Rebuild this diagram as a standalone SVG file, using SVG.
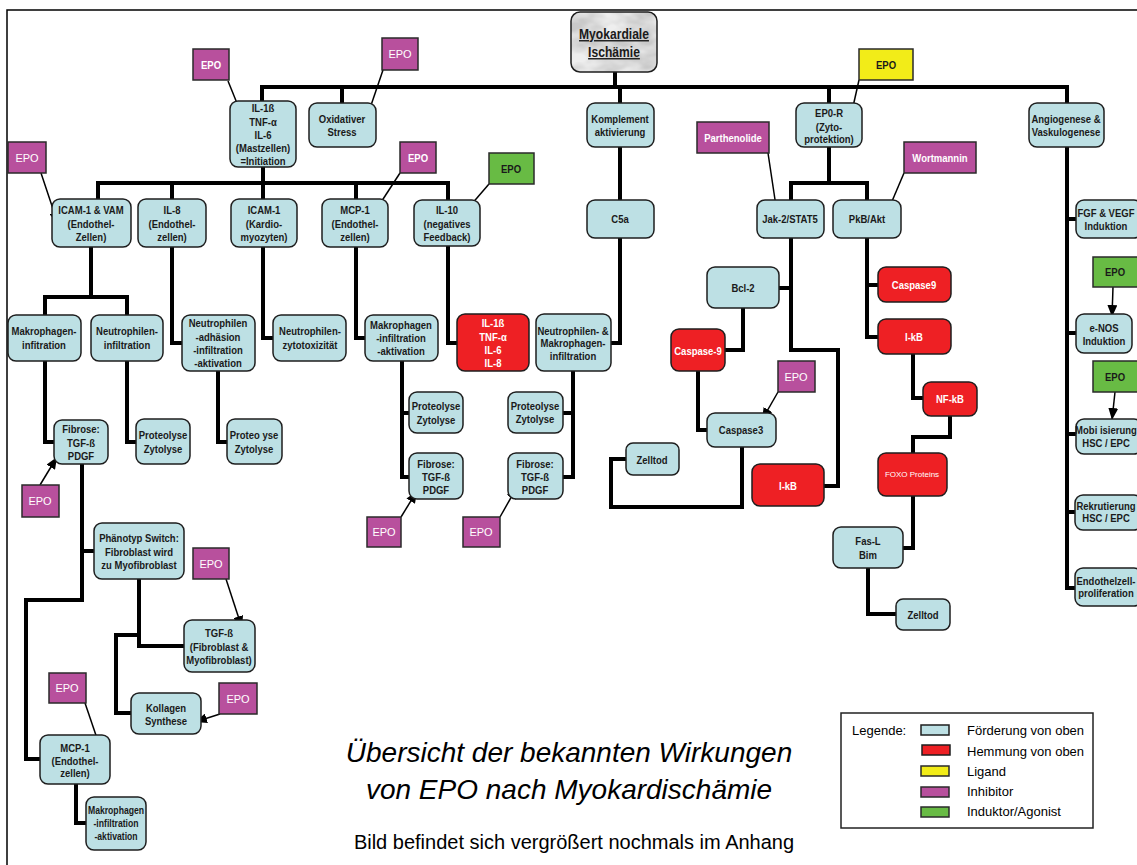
<svg xmlns="http://www.w3.org/2000/svg" width="1137" height="865" viewBox="0 0 1137 865">
<style>
.b{fill:#bde0e4;stroke:#1e1e1e;stroke-width:1.5}
.r{fill:#ee2024;stroke:#1e1e1e;stroke-width:1.5}
.p{fill:#b8509d;stroke:#2a2a2a;stroke-width:1.5}
.g{fill:#68bb44;stroke:#2a2a2a;stroke-width:1.5}
.y{fill:#f2ec18;stroke:#2a2a2a;stroke-width:1.5}
.t{font-family:"Liberation Sans",Arial,sans-serif;font-weight:bold;font-size:11px;fill:#1a1a1a;text-anchor:middle;transform-box:fill-box;transform-origin:center;transform:scaleX(0.865)}
.w{fill:#ffffff}
.e{font-family:"Liberation Sans",Arial,sans-serif;font-size:11px;fill:#ffffff;text-anchor:middle}
.c{fill:none;stroke:#000;stroke-width:4;stroke-linejoin:miter;stroke-linecap:square}
.a{fill:none;stroke:#000;stroke-width:1.5;marker-end:url(#ah)}
.lg{font-family:"Liberation Sans",Arial,sans-serif;font-size:13px;fill:#000}
.ti{font-family:"Liberation Sans",Arial,sans-serif;font-style:italic;font-size:28px;fill:#000;text-anchor:middle}
</style>
<defs>
<marker id="ah" markerUnits="userSpaceOnUse" markerWidth="12" markerHeight="10" refX="12" refY="5" orient="auto"><path d="M0,0 L12,5 L0,10 z" fill="#000"/></marker>
<filter id="marbleF" x="0" y="0" width="1" height="1">
<feTurbulence type="fractalNoise" baseFrequency="0.035 0.06" numOctaves="3" seed="7" result="n"/>
<feColorMatrix in="n" type="matrix" values="0 0 0 0 0.86  0 0 0 0 0.86  0 0 0 0 0.86  0 0 0 -2.2 1.6" result="m"/>
<feFlood flood-color="#c9c9c9" result="bg"/>
<feComposite in="m" in2="bg" operator="over"/>
</filter>
<clipPath id="topclip"><rect x="571" y="12" width="86" height="60" rx="9"/></clipPath>
</defs>
<rect x="7" y="10" width="1200" height="900" fill="#fff" stroke="#000" stroke-width="1.5"/>

<g id="connectors">
<path class="c" d="M615,72 V87"/>
<path class="c" d="M262,101 V87 H1067 V103"/>
<path class="c" d="M342,87 V103 M620,87 V103 M829,87 V103"/>
<path class="c" d="M263,167 V183"/>
<path class="c" d="M98,199 V183 H448 V200 M172,183 V199 M263,183 V199 M356,183 V199"/>
<path class="c" d="M620,147 V200 M620,238 V343 H611"/>
<path class="c" d="M91,247 V297 M45,315 V297 H127 V315"/>
<path class="c" d="M172,247 V343 H182"/>
<path class="c" d="M263,247 V338 H273"/>
<path class="c" d="M356,247 V338 H365"/>
<path class="c" d="M448,246 V343 H457"/>
<path class="c" d="M45,361 V442 H54"/>
<path class="c" d="M127,361 V442 H136"/>
<path class="c" d="M218,371 V442 H227"/>
<path class="c" d="M402,361 V477 H409 M402,413 H409"/>
<path class="c" d="M573,371 V477 H563 M573,413 H563"/>
<path class="c" d="M82,464 V600 H26 V759 H40 M82,551 H94"/>
<path class="c" d="M139,579 V646 H184 M139,635 H116 V713 H131"/>
<path class="c" d="M76,784 V823 H86"/>
<path class="c" d="M829,147 V183 M791,200 V183 H867 V200"/>
<path class="c" d="M791,238 V350 H838 V486 H824 M779,288 H791"/>
<path class="c" d="M743,308 V350 H725"/>
<path class="c" d="M698,371 V430 H707"/>
<path class="c" d="M742,447 V507 H611 V459 H626"/>
<path class="c" d="M867,238 V337 H878 M867,285 H878"/>
<path class="c" d="M913,354 V398 H923"/>
<path class="c" d="M950,416 V437 H913 V453"/>
<path class="c" d="M913,496 V548 H903"/>
<path class="c" d="M868,568 V614 H896"/>
<path class="c" d="M1067,147 V588 H1076 M1067,219 H1076 M1067,333 H1076 M1067,434 H1076 M1067,512 H1076"/>
<path class="a" d="M228,81 L243,118"/>
<path class="a" d="M383,70 L366,120"/>
<path class="a" d="M41,173 L58,224"/>
<path class="a" d="M400,173 L374,213"/>
<path class="a" d="M489,184 L464,213"/>
<path class="a" d="M768,153 L777,213"/>
<path class="a" d="M904,173 L887,213"/>
<path class="a" d="M859,80 L850,120"/>
<path class="a" d="M778,392 L762,420"/>
<path class="a" d="M1113,287 L1112,317"/>
<path class="a" d="M1115,392 L1112,420"/>
<path class="a" d="M40,485 L57,457"/>
<path class="a" d="M401,517 L417,491"/>
<path class="a" d="M500,517 L517,487"/>
<path class="a" d="M226,579 L242,628"/>
<path class="a" d="M220,714 L195,722"/>
<path class="a" d="M85,703 L102,753"/>
</g>

<g id="n-top">
<rect x="571" y="12" width="86" height="60" fill="#d0d0d0" filter="url(#marbleF)" clip-path="url(#topclip)"/>
<rect x="571" y="12" width="86" height="60" rx="9" fill="none" stroke="#1e1e1e" stroke-width="1.5"/>
<text class="t" x="614" y="39" text-decoration="underline" style="font-size:14px">Myokardiale</text>
<text class="t" x="614" y="57" text-decoration="underline" style="font-size:14px">Ischämie</text></g>

<g id="n-il1"><rect class="b" x="230" y="101" width="66" height="66" rx="8"/>
<text class="t" x="263" y="112">IL-1ß</text><text class="t" x="263" y="126">TNF-α</text><text class="t" x="263" y="139">IL-6</text><text class="t" x="263" y="152">(Mastzellen)</text><text class="t" x="263" y="165">=Initiation</text></g>
<g id="n-oxi"><rect class="b" x="309" y="103" width="67" height="44" rx="8"/>
<text class="t" x="342" y="123">Oxidativer</text><text class="t" x="342" y="136">Stress</text></g>
<g id="n-komp"><rect class="b" x="587" y="103" width="67" height="44" rx="8"/>
<text class="t" x="620" y="123">Komplement</text><text class="t" x="620" y="136">aktivierung</text></g>
<g id="n-epor"><rect class="b" x="796" y="103" width="66" height="44" rx="8"/>
<text class="t" x="829" y="117">EP0-R</text><text class="t" x="829" y="131">(Zyto-</text><text class="t" x="829" y="143">protektion)</text></g>
<g id="n-angio"><rect class="b" x="1029" y="103" width="75" height="44" rx="8"/>
<text class="t" x="1066" y="123">Angiogenese &amp;</text><text class="t" x="1066" y="136">Vaskulogenese</text></g>

<g id="n-icamvam"><rect class="b" x="52" y="199" width="79" height="48" rx="8"/>
<text class="t" x="91" y="214">ICAM-1 &amp; VAM</text><text class="t" x="91" y="228">(Endothel-</text><text class="t" x="91" y="241">Zellen)</text></g>
<g id="n-il8"><rect class="b" x="138" y="199" width="68" height="48" rx="8"/>
<text class="t" x="172" y="214">IL-8</text><text class="t" x="172" y="228">(Endothel-</text><text class="t" x="172" y="241">zellen)</text></g>
<g id="n-icam1"><rect class="b" x="231" y="199" width="66" height="48" rx="8"/>
<text class="t" x="264" y="214">ICAM-1</text><text class="t" x="264" y="228">(Kardio-</text><text class="t" x="264" y="241">myozyten)</text></g>
<g id="n-mcp1"><rect class="b" x="322" y="199" width="66" height="48" rx="8"/>
<text class="t" x="355" y="214">MCP-1</text><text class="t" x="355" y="228">(Endothel-</text><text class="t" x="355" y="241">zellen)</text></g>
<g id="n-il10"><rect class="b" x="414" y="200" width="66" height="46" rx="8"/>
<text class="t" x="447" y="214">IL-10</text><text class="t" x="447" y="228">(negatives</text><text class="t" x="447" y="241">Feedback)</text></g>
<g id="n-c5a"><rect class="b" x="587" y="200" width="67" height="38" rx="8"/>
<text class="t" x="620" y="223">C5a</text></g>
<g id="n-jak"><rect class="b" x="757" y="200" width="67" height="38" rx="8"/>
<text class="t" x="790" y="223">Jak-2/STAT5</text></g>
<g id="n-pkb"><rect class="b" x="833" y="200" width="68" height="38" rx="8"/>
<text class="t" x="867" y="223">PkB/Akt</text></g>
<g id="n-fgf"><rect class="b" x="1076" y="200" width="66" height="38" rx="8"/>
<text class="t" x="1106" y="217">FGF &amp; VEGF</text><text class="t" x="1106" y="230">Induktion</text></g>

<g id="n-makinf"><rect class="b" x="8" y="315" width="73" height="46" rx="8"/>
<text class="t" x="44" y="335">Makrophagen-</text><text class="t" x="44" y="349">infitration</text></g>
<g id="n-neuinf"><rect class="b" x="91" y="315" width="72" height="46" rx="8"/>
<text class="t" x="127" y="335">Neutrophilen-</text><text class="t" x="127" y="349">infiltration</text></g>
<g id="n-neuadh"><rect class="b" x="182" y="315" width="73" height="56" rx="8"/>
<text class="t" x="218" y="327">Neutrophilen</text><text class="t" x="218" y="341">-adhäsion</text><text class="t" x="218" y="354">-infiltration</text><text class="t" x="218" y="367">-aktivation</text></g>
<g id="n-neuzyt"><rect class="b" x="273" y="315" width="73" height="46" rx="8"/>
<text class="t" x="310" y="335">Neutrophilen-</text><text class="t" x="310" y="349">zytotoxizität</text></g>
<g id="n-makakt"><rect class="b" x="365" y="315" width="73" height="46" rx="8"/>
<text class="t" x="401" y="329">Makrophagen</text><text class="t" x="401" y="342">-infiltration</text><text class="t" x="401" y="355">-aktivation</text></g>
<g id="n-ilred"><rect class="r" x="457" y="314" width="72" height="57" rx="8"/>
<text class="t w" x="493" y="327">IL-1ß</text><text class="t w" x="493" y="341">TNF-α</text><text class="t w" x="493" y="354">IL-6</text><text class="t w" x="493" y="367">IL-8</text></g>
<g id="n-nmi"><rect class="b" x="536" y="314" width="75" height="57" rx="8"/>
<text class="t" x="573" y="335">Neutrophilen- &amp;</text><text class="t" x="573" y="347">Makrophagen-</text><text class="t" x="573" y="360">infiltration</text></g>

<g id="n-fib1"><rect class="b" x="54" y="420" width="54" height="44" rx="8"/>
<text class="t" x="81" y="433">Fibrose:</text><text class="t" x="81" y="447">TGF-ß</text><text class="t" x="81" y="460">PDGF</text></g>
<g id="n-pro1"><rect class="b" x="136" y="419" width="54" height="45" rx="8"/>
<text class="t" x="163" y="439">Proteolyse</text><text class="t" x="163" y="453">Zytolyse</text></g>
<g id="n-pro2"><rect class="b" x="227" y="419" width="55" height="45" rx="8"/>
<text class="t" x="254" y="439">Proteo yse</text><text class="t" x="254" y="453">Zytolyse</text></g>
<g id="n-pro3"><rect class="b" x="409" y="392" width="54" height="41" rx="8"/>
<text class="t" x="436" y="410">Proteolyse</text><text class="t" x="436" y="424">Zytolyse</text></g>
<g id="n-fib2"><rect class="b" x="409" y="453" width="54" height="46" rx="8"/>
<text class="t" x="436" y="468">Fibrose:</text><text class="t" x="436" y="481">TGF-ß</text><text class="t" x="436" y="494">PDGF</text></g>
<g id="n-pro4"><rect class="b" x="508" y="392" width="55" height="41" rx="8"/>
<text class="t" x="535" y="410">Proteolyse</text><text class="t" x="535" y="423">Zytolyse</text></g>
<g id="n-fib3"><rect class="b" x="508" y="453" width="55" height="46" rx="8"/>
<text class="t" x="535" y="468">Fibrose:</text><text class="t" x="535" y="481">TGF-ß</text><text class="t" x="535" y="494">PDGF</text></g>

<g id="n-bcl2"><rect class="b" x="707" y="267" width="72" height="41" rx="8"/>
<text class="t" x="743" y="292">Bcl-2</text></g>
<g id="n-casp9a"><rect class="r" x="671" y="329" width="54" height="42" rx="8"/>
<text class="t w" x="698" y="355">Caspase-9</text></g>
<g id="n-casp3"><rect class="b" x="707" y="413" width="69" height="34" rx="8"/>
<text class="t" x="741" y="434">Caspase3</text></g>
<g id="n-zell1"><rect class="b" x="626" y="443" width="53" height="32" rx="7"/>
<text class="t" x="652" y="464">Zelltod</text></g>
<g id="n-ikb1"><rect class="r" x="752" y="464" width="72" height="42" rx="8"/>
<text class="t w" x="788" y="490">I-kB</text></g>
<g id="n-casp9b"><rect class="r" x="878" y="267" width="73" height="35" rx="8"/>
<text class="t w" x="914" y="289">Caspase9</text></g>
<g id="n-ikb2"><rect class="r" x="878" y="319" width="73" height="35" rx="8"/>
<text class="t w" x="914" y="341">I-kB</text></g>
<g id="n-nfkb"><rect class="r" x="923" y="382" width="54" height="34" rx="8"/>
<text class="t w" x="950" y="403">NF-kB</text></g>
<g id="n-foxo"><rect class="r" x="878" y="453" width="69" height="43" rx="8"/>
<text x="912" y="477" style="font-family:'Liberation Sans',Arial,sans-serif;font-size:8px;fill:#fff;text-anchor:middle">FOXO Proteins</text></g>
<g id="n-fasl"><rect class="b" x="833" y="527" width="70" height="41" rx="8"/>
<text class="t" x="868" y="545">Fas-L</text><text class="t" x="868" y="559">Bim</text></g>
<g id="n-zell2"><rect class="b" x="896" y="599" width="54" height="31" rx="7"/>
<text class="t" x="923" y="619">Zelltod</text></g>

<g id="n-enos"><rect class="b" x="1076" y="314" width="56" height="39" rx="8"/>
<text class="t" x="1104" y="332">e-NOS</text><text class="t" x="1104" y="345">Induktion</text></g>
<g id="n-mobi"><rect class="b" x="1076" y="419" width="66" height="35" rx="8"/>
<text class="t" x="1106" y="434">Mobi isierung</text><text class="t" x="1106" y="447">HSC / EPC</text></g>
<g id="n-rekr"><rect class="b" x="1075" y="495" width="67" height="35" rx="8"/>
<text class="t" x="1106" y="510">Rekrutierung</text><text class="t" x="1106" y="522">HSC / EPC</text></g>
<g id="n-endo"><rect class="b" x="1075" y="568" width="67" height="38" rx="8"/>
<text class="t" x="1106" y="585">Endothelzell-</text><text class="t" x="1106" y="597">proliferation</text></g>

<g id="n-pheno"><rect class="b" x="94" y="523" width="90" height="56" rx="8"/>
<text class="t" x="139" y="542">Phänotyp Switch:</text><text class="t" x="139" y="556">Fibroblast wird</text><text class="t" x="139" y="569">zu Myofibroblast</text></g>
<g id="n-tgf"><rect class="b" x="184" y="620" width="71" height="52" rx="8"/>
<text class="t" x="219" y="637">TGF-ß</text><text class="t" x="219" y="651">(Fibroblast &amp;</text><text class="t" x="219" y="664">Myofibroblast)</text></g>
<g id="n-koll"><rect class="b" x="131" y="693" width="70" height="41" rx="8"/>
<text class="t" x="166" y="712">Kollagen</text><text class="t" x="166" y="725">Synthese</text></g>
<g id="n-mcp1b"><rect class="b" x="40" y="735" width="70" height="49" rx="8"/>
<text class="t" x="75" y="752">MCP-1</text><text class="t" x="75" y="765">(Endothel-</text><text class="t" x="75" y="777">zellen)</text></g>
<g id="n-makb"><rect class="b" x="86" y="797" width="60" height="53" rx="8"/>
<text class="t" x="116" y="814" style="font-size:10px">Makrophagen</text><text class="t" x="116" y="827" style="font-size:10px">-infiltration</text><text class="t" x="116" y="840" style="font-size:10px">-aktivation</text></g>

<g id="epo1"><rect class="p" x="193" y="49" width="36" height="31"/><text class="t w" x="211" y="69">EPO</text></g>
<g id="epo2"><rect class="p" x="382" y="38" width="36" height="32"/><text class="e" x="400" y="58">EPO</text></g>
<g id="epo3"><rect class="p" x="8" y="142" width="38" height="31"/><text class="e" x="27" y="162">EPO</text></g>
<g id="epo4"><rect class="p" x="400" y="142" width="36" height="31"/><text class="t w" x="418" y="162">EPO</text></g>
<g id="epo5"><rect class="g" x="489" y="153" width="45" height="31"/><text class="t" x="511" y="173">EPO</text></g>
<g id="parth"><rect class="p" x="697" y="122" width="72" height="31"/><text class="t w" x="733" y="142">Parthenolide</text></g>
<g id="wort"><rect class="p" x="904" y="142" width="72" height="31"/><text class="t w" x="940" y="162">Wortmannin</text></g>
<g id="epo6"><rect class="y" x="859" y="49" width="54" height="31"/><text class="t" x="886" y="69">EPO</text></g>
<g id="epo7"><rect class="p" x="778" y="361" width="37" height="31"/><text class="e" x="796" y="381">EPO</text></g>
<g id="epo8"><rect class="g" x="1093" y="257" width="46" height="30"/><text class="t" x="1115" y="276">EPO</text></g>
<g id="epo9"><rect class="g" x="1093" y="361" width="46" height="31"/><text class="t" x="1115" y="381">EPO</text></g>
<g id="epo10"><rect class="p" x="22" y="485" width="37" height="32"/><text class="e" x="40" y="505">EPO</text></g>
<g id="epo11"><rect class="p" x="367" y="517" width="34" height="30"/><text class="e" x="384" y="536">EPO</text></g>
<g id="epo12"><rect class="p" x="463" y="517" width="37" height="30"/><text class="e" x="481" y="536">EPO</text></g>
<g id="epo13"><rect class="p" x="193" y="548" width="36" height="31"/><text class="e" x="211" y="568">EPO</text></g>
<g id="epo14"><rect class="p" x="219" y="683" width="38" height="31"/><text class="e" x="238" y="703">EPO</text></g>
<g id="epo15"><rect class="p" x="49" y="673" width="37" height="30"/><text class="e" x="67" y="692">EPO</text></g>

<g id="title">
<text class="ti" x="569" y="762">Übersicht der bekannten Wirkungen</text>
<text class="ti" x="569" y="799">von EPO nach Myokardischämie</text>
<text x="574" y="849" style="font-family:'Liberation Sans',Arial,sans-serif;font-size:20px;fill:#000;text-anchor:middle">Bild befindet sich vergrößert nochmals im Anhang</text>
</g>

<g id="legend">
<rect x="841" y="713" width="252" height="115" fill="#fff" stroke="#222" stroke-width="1.5"/>
<text class="lg" x="852" y="735">Legende:</text>
<rect class="b" x="921" y="725" width="28" height="10"/>
<rect class="r" x="922" y="745" width="28" height="10"/>
<rect class="y" x="921" y="766" width="28" height="10"/>
<rect class="p" x="921" y="787" width="28" height="10"/>
<rect class="g" x="921" y="807" width="28" height="10"/>
<text class="lg" x="967" y="735">Förderung von oben</text>
<text class="lg" x="967" y="756">Hemmung von oben</text>
<text class="lg" x="967" y="776">Ligand</text>
<text class="lg" x="967" y="796">Inhibitor</text>
<text class="lg" x="967" y="816">Induktor/Agonist</text>
</g>
</svg>
